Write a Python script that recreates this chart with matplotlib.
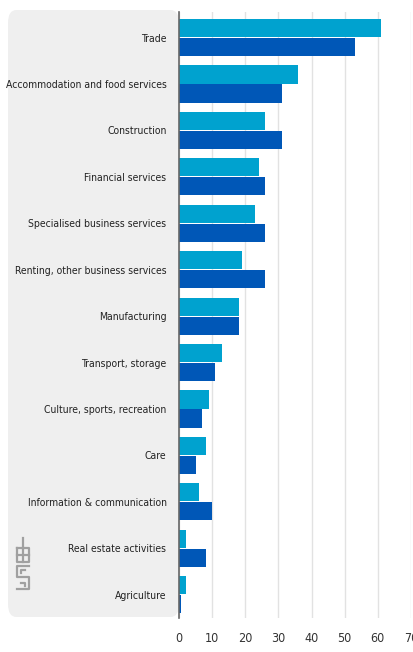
import numpy as np
import matplotlib.pyplot as plt
from matplotlib import font_manager as fm
from matplotlib.patches import FancyBboxPatch
from matplotlib.lines import Line2D

categories = ['Trade', 'Accommodation and food services', 'Construction',
              'Financial services', 'Specialised business services',
              'Renting, other business services', 'Manufacturing',
              'Transport, storage', 'Culture, sports, recreation', 'Care',
              'Information & communication', 'Real estate activities',
              'Agriculture']
series_a = [61, 36, 26, 24, 23, 19, 18, 13, 9, 8, 6, 2, 2]
series_b = [53, 31, 31, 26, 26, 26, 18, 11, 7, 5, 10, 8, 0.6]
xticks = [0, 10, 20, 30, 40, 50, 60, 70]

light = '#00a2cf'
dark = '#0057b7'

# pick a narrow font if one is installed
entries = fm.fontManager.ttflist
names = {f.name for f in entries}
if 'Liberation Sans Narrow' in names:
    family, stretch, lsize = 'Liberation Sans Narrow', 'normal', 9
elif any(f.name == 'DejaVu Sans' and f.stretch == 'condensed' for f in entries):
    family, stretch, lsize = 'DejaVu Sans', 'condensed', 7.5
else:
    family, stretch, lsize = 'Liberation Sans', 'normal', 7.5

fig = plt.figure(figsize=(4.13, 6.52), dpi=100)
W, H = 413, 652

# grey label panel
panel = FancyBboxPatch((8 / W, 1 - 617 / H), (179 - 8) / W, (617 - 10) / H,
                       boxstyle='round,pad=0,rounding_size=0.02',
                       transform=fig.transFigure, facecolor='#efefef',
                       edgecolor='none', zorder=-5)
fig.patches.append(panel)

ax = fig.add_axes([179 / W, 1 - 618 / H, (411 - 179) / W, (618 - 12) / H])
ax.set_facecolor('none')
ax.set_zorder(2)

y = np.arange(len(categories))
h = 0.39
ax.barh(y - 0.205, series_a, height=h, color=light, zorder=3)
ax.barh(y + 0.205, series_b, height=h, color=dark, zorder=3)

ax.set_xlim(0, 70)
ax.set_ylim(len(categories) - 0.5, -0.55)
ax.set_xticks(xticks)
ax.set_yticks(y)
ax.set_yticklabels(categories, fontsize=lsize, family=family,
                   stretch=stretch, color='#222222')
ax.tick_params(axis='y', length=0, pad=9)
ax.tick_params(axis='x', length=0, pad=10, labelsize=9, labelcolor='#333333')
for lbl in ax.get_xticklabels():
    lbl.set_family(family)
    lbl.set_stretch(stretch)
ax.grid(axis='x', color='#e2e2e2', linewidth=1, zorder=0)
for s in ['top', 'right', 'bottom']:
    ax.spines[s].set_visible(False)
ax.spines['left'].set_color('#666666')
ax.spines['left'].set_linewidth(1.2)
ax.spines['left'].set_zorder(4)

# rough CBS logo in the panel (pixel coords from top-left)
logo = '#a0a0a0'
strokes = [
    [(23, 538), (23, 548)],
    [(17, 548), (29, 548), (29, 562), (17, 562), (17, 548)],
    [(23, 548), (23, 562)],
    [(17, 555), (29, 555)],
    [(29, 566), (17, 566), (17, 577), (29, 577), (29, 589), (17, 589)],
    [(25, 570), (21, 570), (21, 573)],
    [(21, 583), (25, 583), (25, 586)],
]
for pts in strokes:
    xs = [p[0] / W for p in pts]
    ys = [1 - p[1] / H for p in pts]
    fig.add_artist(Line2D(xs, ys, transform=fig.transFigure, color=logo,
                          linewidth=1.6, zorder=1))

fig.savefig('out.png', dpi=100)
